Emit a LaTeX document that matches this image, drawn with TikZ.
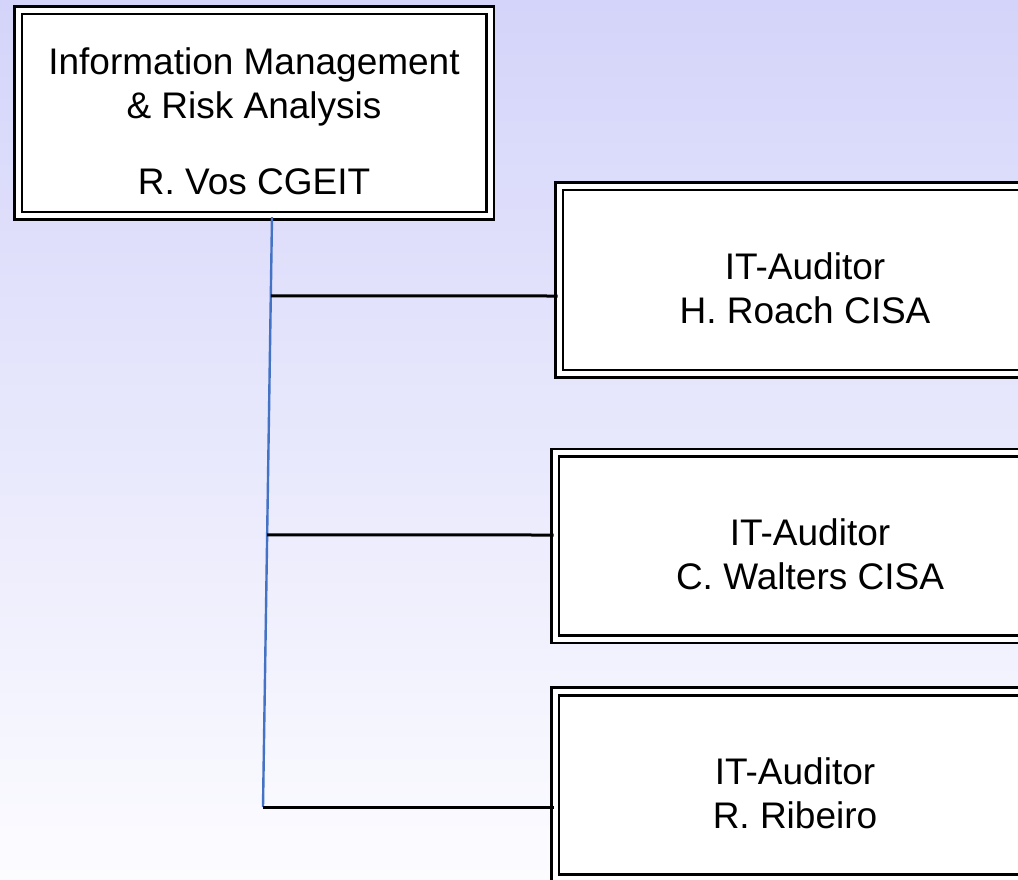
\documentclass[tikz,border=0pt]{standalone}
\usepackage{fontspec}
\setmainfont{Liberation Sans}
\usepackage{tikz}
\usetikzlibrary{positioning, calc}
\definecolor{bgtop}{RGB}{212,212,250}
\definecolor{bgbottom}{RGB}{252,252,255}
\definecolor{trunkblue}{RGB}{68,114,196}
\newcommand\boxstrut{\rule{0pt}{43pt}}
\tikzstyle{orgbox} = [rectangle, draw=black, fill=white, line width=2.6pt, double=white, double distance=5pt, align=center, font=\fontsize{37}{44}\selectfont]
\tikzstyle{trunk} = [line width=2.4pt, draw=trunkblue]
\tikzstyle{branch} = [line width=3pt, draw=black]

\begin{document}
\begin{tikzpicture}[x=1pt, y=-1pt, node distance=266pt]
%----------------------------------------------------------------------------
% Background
\clip (0,0) rectangle (1018,880);
\shade [top color=bgtop, bottom color=bgbottom] (0,0) rectangle (1018,880);

%----------------------------------------------------------------------------
% Placement of org chart nodes
\node (vos) [orgbox, minimum width=472pt, minimum height=205.5pt] at (254,113) {\boxstrut Information Management\\ \& Risk Analysis\\[32pt] R. Vos CGEIT};

\node (roach) [orgbox, minimum width=492pt, minimum height=187.5pt] at (805,280) {\boxstrut IT-Auditor\\ H. Roach CISA};
\node (walters) [orgbox, minimum width=510pt, minimum height=186.5pt, below of=roach, xshift=5pt] {\boxstrut IT-Auditor\\ C. Walters CISA};
\node (ribeiro) [orgbox, minimum width=480pt, minimum height=187pt, below of=walters, node distance=239pt, xshift=-15pt] {\boxstrut IT-Auditor\\ R. Ribeiro};

%----------------------------------------------------------------------------
% Draw lines
\coordinate (trunkTop) at ([xshift=18pt]vos.south);
\coordinate (trunkEnd) at (263,807);
\draw [trunk] (trunkTop) -- (trunkEnd);

\coordinate (roachJoin) at ([yshift=-16pt]roach.west);
\coordinate (roachRef) at ([xshift=-100pt]roachJoin);
\coordinate (waltersJoin) at ([yshift=11pt]walters.west);
\coordinate (waltersRef) at ([xshift=-100pt]waltersJoin);
\draw [branch] (intersection of trunkTop--trunkEnd and roachJoin--roachRef) -- (roachJoin);
\draw [branch] (intersection of trunkTop--trunkEnd and waltersJoin--waltersRef) -- (waltersJoin);
\draw [branch] (trunkEnd) -- (trunkEnd -| ribeiro.west);

\end{tikzpicture}
\end{document}
